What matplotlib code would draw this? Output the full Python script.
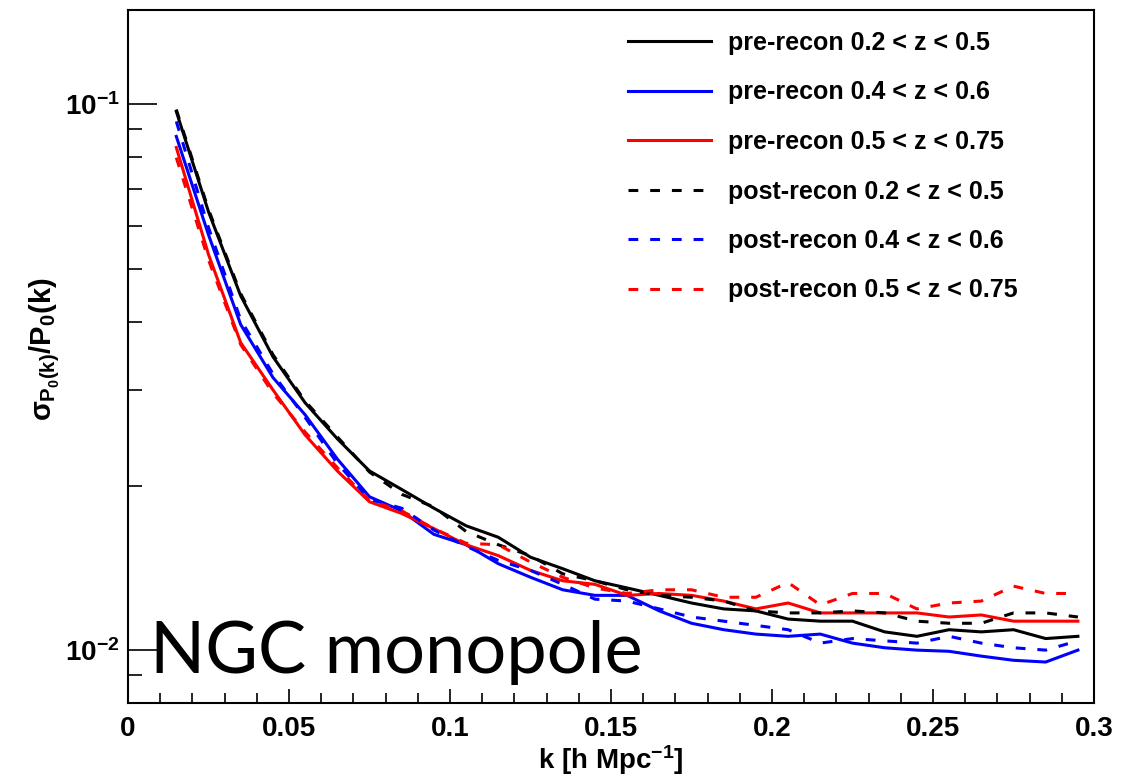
import matplotlib
matplotlib.use("Agg")
import matplotlib.pyplot as plt
from matplotlib.ticker import MultipleLocator, FixedLocator, LogLocator, NullFormatter

plt.rcParams['font.family'] = ['Liberation Sans', 'DejaVu Sans']
plt.rcParams['font.weight'] = 'bold'
plt.rcParams['axes.labelweight'] = 'bold'
plt.rcParams['mathtext.fontset'] = 'custom'
plt.rcParams['mathtext.rm'] = 'Liberation Sans:bold'
plt.rcParams['mathtext.it'] = 'Liberation Sans:bold'
plt.rcParams['mathtext.bf'] = 'Liberation Sans:bold'

# bin centres in k [h/Mpc]
k = [0.015, 0.025, 0.035, 0.045, 0.055, 0.065, 0.075, 0.085, 0.095, 0.105,
     0.115, 0.125, 0.135, 0.145, 0.155, 0.165, 0.175, 0.185, 0.195, 0.205,
     0.215, 0.225, 0.235, 0.245, 0.255, 0.265, 0.275, 0.285, 0.295]

# sigma_P0 / P0
pre_z1 = [0.0971, 0.0636, 0.0446, 0.0345, 0.0284, 0.0244, 0.0213, 0.0197, 0.0182, 0.0169,
          0.0161, 0.0148, 0.0141, 0.0134, 0.0130, 0.0126, 0.0122, 0.0119, 0.0118, 0.0114,
          0.0113, 0.0113, 0.0108, 0.0106, 0.0109, 0.0108, 0.0109, 0.0105, 0.0106]
pre_z2 = [0.0874, 0.0577, 0.0395, 0.0316, 0.0270, 0.0224, 0.0191, 0.0180, 0.0163, 0.0156,
          0.0144, 0.0136, 0.0129, 0.0126, 0.0126, 0.0118, 0.0112, 0.0109, 0.0107, 0.0106,
          0.0107, 0.0103, 0.0101, 0.0100, 0.00995, 0.00975, 0.00958, 0.00951, 0.0100]
pre_z3 = [0.0834, 0.0531, 0.0366, 0.0300, 0.0248, 0.0213, 0.0187, 0.0178, 0.0167, 0.0156,
          0.0149, 0.0140, 0.0134, 0.0132, 0.0126, 0.0127, 0.0126, 0.0123, 0.0119, 0.0122,
          0.0117, 0.0117, 0.0117, 0.0117, 0.0115, 0.0116, 0.0113, 0.0113, 0.0113]
post_z1 = [0.0979, 0.0642, 0.0450, 0.0348, 0.0286, 0.0246, 0.0212, 0.0193, 0.0183, 0.0165,
           0.0156, 0.0149, 0.0138, 0.0134, 0.0129, 0.0126, 0.0125, 0.0123, 0.0118, 0.0117,
           0.0117, 0.0118, 0.0117, 0.0113, 0.0112, 0.0112, 0.0117, 0.0117, 0.0115]
post_z2 = [0.0931, 0.0595, 0.0403, 0.0321, 0.0267, 0.0220, 0.0189, 0.0182, 0.0166, 0.0155,
           0.0146, 0.0140, 0.0132, 0.0124, 0.0123, 0.0119, 0.0115, 0.0113, 0.0111, 0.0109,
           0.0103, 0.0105, 0.0104, 0.0103, 0.0106, 0.0103, 0.0101, 0.0100, 0.0104]
post_z3 = [0.0799, 0.0519, 0.0363, 0.0296, 0.0251, 0.0216, 0.0188, 0.0180, 0.0167, 0.0157,
           0.0156, 0.0145, 0.0136, 0.0130, 0.0127, 0.0129, 0.0129, 0.0125, 0.0125, 0.0133,
           0.0121, 0.0127, 0.0127, 0.0119, 0.0122, 0.0123, 0.0131, 0.0127, 0.0127]

labels = ['pre-recon 0.2 < z < 0.5', 'pre-recon 0.4 < z < 0.6', 'pre-recon 0.5 < z < 0.75',
          'post-recon 0.2 < z < 0.5', 'post-recon 0.4 < z < 0.6', 'post-recon 0.5 < z < 0.75']

fig = plt.figure(figsize=(11.23, 7.77), dpi=100)
ax = fig.add_axes([128 / 1123, 74 / 777, 966 / 1123, 693 / 777])

lw = 2.2
dash = (0, (3.2, 3.9))
ax.plot(k, pre_z1, color='black', lw=lw, label=labels[0])
ax.plot(k, pre_z2, color='blue', lw=lw, label=labels[1])
ax.plot(k, pre_z3, color='red', lw=lw, label=labels[2])
ax.plot(k, post_z1, color='black', lw=lw, ls=dash, label=labels[3])
ax.plot(k, post_z2, color='blue', lw=lw, ls=dash, label=labels[4])
ax.plot(k, post_z3, color='red', lw=lw, ls=dash, label=labels[5])

ax.set_yscale('log')
ax.set_xlim(0, 0.3)
ax.set_ylim(0.0080, 0.149)

ax.xaxis.set_major_locator(FixedLocator([0, 0.05, 0.1, 0.15, 0.2, 0.25, 0.3]))
ax.set_xticklabels(['0', '0.05', '0.1', '0.15', '0.2', '0.25', '0.3'])
ax.xaxis.set_minor_locator(MultipleLocator(0.01))
ax.yaxis.set_major_locator(LogLocator(base=10))
ax.yaxis.set_minor_locator(LogLocator(base=10, subs=range(2, 10)))
ax.yaxis.set_minor_formatter(NullFormatter())

for s in ax.spines.values():
    s.set_linewidth(1.5)
ax.tick_params(axis='both', which='both', direction='in', top=False, right=False, width=1.2)
ax.tick_params(axis='x', which='major', length=10, labelsize=20, pad=9)
ax.tick_params(axis='x', which='minor', length=7)
ax.tick_params(axis='y', which='major', length=21, labelsize=20, pad=6)
ax.tick_params(axis='y', which='minor', length=10)

ax.set_xlabel(r'k [h Mpc$^{-1}$]', fontsize=20, labelpad=1)
ax.set_ylabel(r'$\sigma_{P_0(k)}/P_0(k)$', fontsize=21)
ax.yaxis.set_label_coords(-0.068, 0.51)

leg = ax.legend(loc='upper left', bbox_to_anchor=(628 / 1123, 1 - 31 / 777),
                bbox_transform=fig.transFigure, frameon=False, fontsize=18,
                handlelength=3.3, handletextpad=0.7, labelspacing=1.02,
                borderpad=0, borderaxespad=0)

fig.text(150 / 1123, (777 - 673) / 777, 'NGC monopole', family=['Lato', 'DejaVu Sans'],
         fontweight='normal', fontsize=52, va='baseline', ha='left')

fig.savefig('out.png', dpi=100)
